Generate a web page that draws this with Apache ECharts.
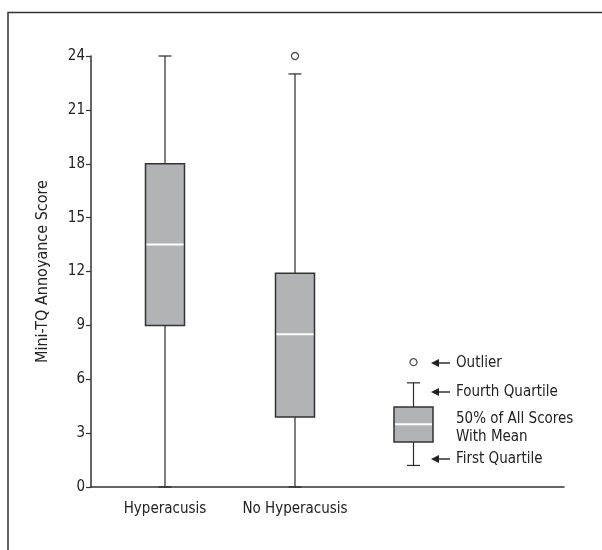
<!DOCTYPE html>
<html>
<head>
<meta charset="utf-8">
<script src="https://cdn.jsdelivr.net/npm/echarts@6/dist/echarts.min.js"></script>
<style>html,body{margin:0;padding:0;background:#fff}#c{width:602px;height:550px}</style>
</head>
<body>
<div id="c"></div>
<script>
// ---- data ----
const categories = ['Hyperacusis', 'No Hyperacusis'];
const whiskerLow = [0, 0];
const firstQuartile = [9, 3.9];
const medians = [13.5, 8.5];
const thirdQuartile = [18, 11.9];
const whiskerHigh = [24, 23];
const outliers = [[1, 24]]; // [category index, value]
const yTicks = { min: 0, max: 24, interval: 3 };
const yTitle = 'Mini-TQ Annoyance Score';
// key (legend) example box
const keyBox = [1.2, 2.5, 3.5, 4.45, 5.8];
const keyOutlier = 6.95;
const keyLabels = ['Outlier', 'Fourth Quartile', '50% of All Scores\nWith Mean', 'First Quartile'];

const FONT = '"DejaVu Sans Condensed", "Liberation Sans Narrow", "Arial Narrow", sans-serif';
const INK = '#222222';

function renderBox(params, api) {
  const xi = api.value(0);
  const cx = api.coord([xi, 0])[0];
  const y = i => api.coord([xi, api.value(i)])[1];
  const yLo = y(1), yQ1 = y(2), yMed = y(3), yQ3 = y(4), yHi = y(5);
  const hw = 19.5, cap = 6.5;
  const ls = { stroke: '#2b2b2b', lineWidth: 1.2 };
  return {
    type: 'group',
    children: [
      { type: 'line', shape: { x1: cx, y1: yHi, x2: cx, y2: yQ3 }, style: ls },
      { type: 'line', shape: { x1: cx, y1: yQ1, x2: cx, y2: yLo }, style: ls },
      { type: 'line', shape: { x1: cx - cap, y1: yHi, x2: cx + cap, y2: yHi }, style: ls },
      { type: 'line', shape: { x1: cx - cap, y1: yLo, x2: cx + cap, y2: yLo }, style: ls },
      { type: 'rect', shape: { x: cx - hw, y: yQ3, width: 2 * hw, height: yQ1 - yQ3 },
        style: { fill: '#b2b3b7', stroke: '#333', lineWidth: 1.5 } },
      { type: 'line', shape: { x1: cx - hw + 1, y1: yMed, x2: cx + hw - 1, y2: yMed },
        style: { stroke: '#ffffff', lineWidth: 2 } }
    ]
  };
}

const boxData = categories.map((c, i) =>
  [i, whiskerLow[i], firstQuartile[i], medians[i], thirdQuartile[i], whiskerHigh[i]]);
const keyData = [[0].concat(keyBox)];

const chart = echarts.init(document.getElementById('c'), null, { renderer: 'canvas' });

// legend annotation graphics
const arrowX = 431, textX = 456;
const keyRows = [
  { y: 363, text: keyLabels[0], arrow: true },
  { y: 392, text: keyLabels[1], arrow: true },
  { y: 428, text: keyLabels[2], arrow: false },
  { y: 459, text: keyLabels[3], arrow: true }
];
const graphics = [
  { type: 'polyline', shape: { points: [[8, 552], [8, 12.5], [604, 12.5]] },
    style: { stroke: '#333', lineWidth: 1.5, fill: null } }
];
keyRows.forEach(r => {
  if (r.arrow) {
    graphics.push({ type: 'line', shape: { x1: arrowX + 5, y1: r.y, x2: arrowX + 19, y2: r.y },
      style: { stroke: INK, lineWidth: 1.4 } });
    graphics.push({ type: 'polygon', shape: { points: [[arrowX, r.y], [arrowX + 8, r.y - 4], [arrowX + 8, r.y + 4]] },
      style: { fill: INK } });
  }
  graphics.push({ type: 'text', x: textX, y: r.y,
    style: { text: r.text, fill: INK, font: '15px ' + FONT, verticalAlign: 'middle', align: 'left', lineHeight: 18 } });
});

const option = {
  animation: false,
  backgroundColor: '#fff',
  textStyle: { fontFamily: FONT },
  grid: [
    { left: 91, right: 38, top: 56, bottom: 63 },
    { left: 100, width: 260, top: 56, bottom: 63 },
    { left: 393.5, width: 40, top: 56, bottom: 63 }
  ],
  xAxis: [
    { gridIndex: 0, type: 'value', min: 0, max: 1,
      axisLine: { show: true, lineStyle: { color: '#333', width: 1.5 } },
      axisTick: { show: false }, axisLabel: { show: false }, splitLine: { show: false } },
    { gridIndex: 1, type: 'category', data: categories, boundaryGap: true,
      axisLine: { show: false }, axisTick: { show: false },
      axisLabel: { color: INK, fontSize: 15, fontFamily: FONT, margin: 15, interval: 0 } },
    { gridIndex: 2, type: 'category', data: [''], show: false }
  ],
  yAxis: [
    { gridIndex: 0, type: 'value', min: yTicks.min, max: yTicks.max, interval: yTicks.interval,
      name: yTitle, nameLocation: 'middle', nameGap: 40,
      nameTextStyle: { color: INK, fontSize: 16, fontFamily: FONT },
      axisLine: { show: true, lineStyle: { color: '#333', width: 1.5 } },
      axisTick: { show: true, length: 5, inside: false, lineStyle: { color: '#333', width: 1.2 } },
      axisLabel: { color: INK, fontSize: 15, fontFamily: FONT, margin: 6 },
      splitLine: { show: false } },
    { gridIndex: 1, type: 'value', min: yTicks.min, max: yTicks.max, show: false },
    { gridIndex: 2, type: 'value', min: yTicks.min, max: yTicks.max, show: false }
  ],
  series: [
    { type: 'custom', xAxisIndex: 1, yAxisIndex: 1, renderItem: renderBox,
      encode: { x: 0, y: [1, 2, 3, 4, 5] }, data: boxData, z: 3 },
    { type: 'scatter', xAxisIndex: 1, yAxisIndex: 1, data: outliers,
      symbol: 'circle', symbolSize: 7, clip: false,
      itemStyle: { color: '#fff', borderColor: '#2b2b2b', borderWidth: 1.3 }, z: 4 },
    { type: 'custom', xAxisIndex: 2, yAxisIndex: 2, renderItem: renderBox,
      encode: { x: 0, y: [1, 2, 3, 4, 5] }, data: keyData, z: 3 },
    { type: 'scatter', xAxisIndex: 2, yAxisIndex: 2, data: [[0, keyOutlier]],
      symbol: 'circle', symbolSize: 7, clip: false,
      itemStyle: { color: '#fff', borderColor: '#2b2b2b', borderWidth: 1.3 }, z: 4 }
  ],
  graphic: graphics
};
chart.setOption(option);
</script>
</body>
</html>
